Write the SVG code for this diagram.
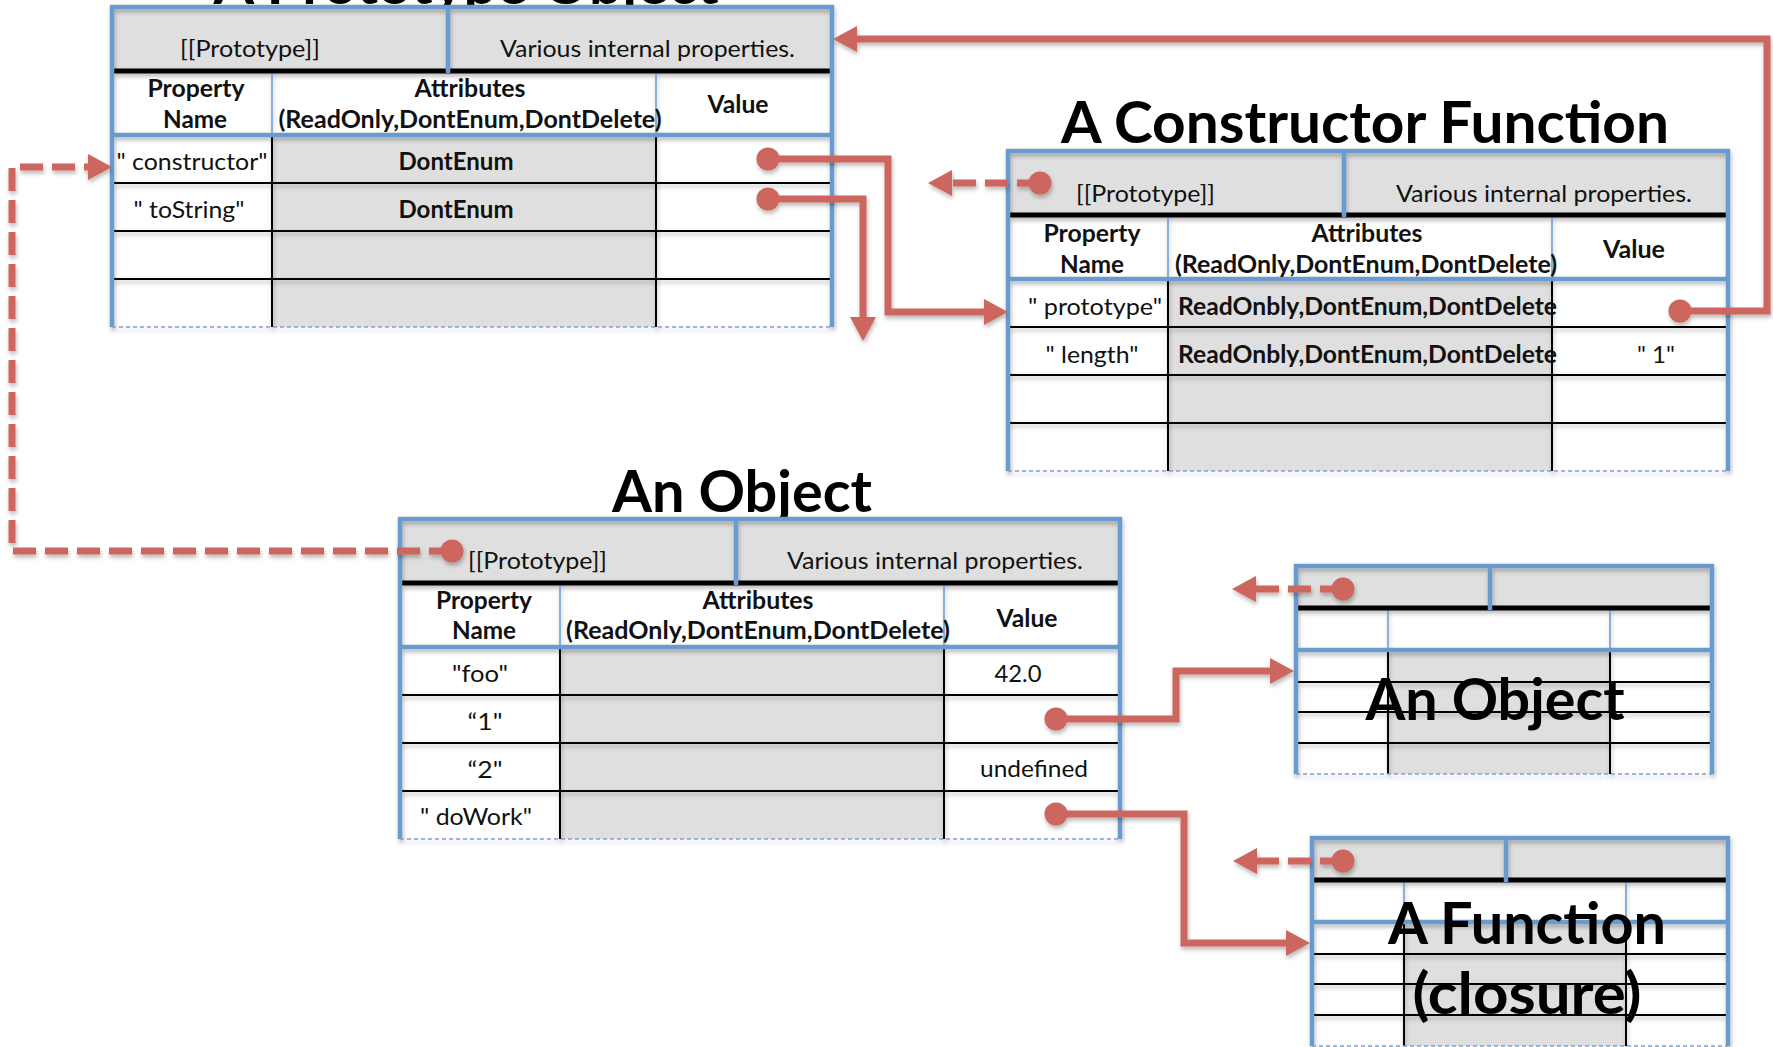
<svg xmlns="http://www.w3.org/2000/svg" width="1773" height="1047" viewBox="0 0 1773 1047">
  <style>
    .txt { font-family: Lato, "Liberation Sans", sans-serif; font-size: 24px; fill: #111; }
    .b { font-weight: bold; }
    .mid { text-anchor: middle; }
    .end { text-anchor: end; }
    .title { font-family: Lato, "Liberation Sans", sans-serif; font-size: 57px; font-weight: bold; fill: #000; text-anchor: middle; }
    .fill { fill: #DFDFDF; }
    .grid { stroke: #000; stroke-width: 2; fill: none; }
    .thin { stroke: #6A9ACE; stroke-width: 1.5; fill: none; }
    .heavy { stroke: #000; stroke-width: 5; fill: none; }
    .rim { stroke: #6A9ACE; stroke-width: 4.5; fill: none; }
    .foot { stroke: #7FA3CC; stroke-width: 1.5; stroke-dasharray: 4 3; fill: none; }
    .link { stroke: #CD665F; stroke-width: 7; fill: none; stroke-linejoin: miter; }
    .dash { stroke-dasharray: 23 9; }
  </style>
  <defs>
    <filter id="soft" filterUnits="userSpaceOnUse" x="-200" y="-200" width="2400" height="1500">
      <feDropShadow dx="1" dy="3" stdDeviation="2.2" flood-color="#000" flood-opacity="0.28"/>
    </filter>
    <marker id="arrow" markerUnits="userSpaceOnUse" viewBox="0 -13 24 26" markerWidth="24" markerHeight="26" refX="1" refY="0" orient="auto">
      <path d="M0,-13 L24,0 L0,13 Z" fill="#CD665F"/>
    </marker>
    <marker id="dot" markerUnits="userSpaceOnUse" viewBox="-12 -12 24 24" markerWidth="24" markerHeight="24" refX="0" refY="0" orient="auto">
      <circle cx="0" cy="0" r="11.5" fill="#CD665F"/>
    </marker>

    <!-- full-size property table: 720 x 320 -->
    <g id="tableFrame">
      <rect class="fill" x="0" y="0" width="720" height="64"/>
      <rect class="fill" x="160" y="128" width="384" height="192"/>
      <g filter="url(#soft)">
        <path class="grid" d="M2,176 H718 M2,224 H718 M2,272 H718 M160,128 V320 M544,128 V320"/>
        <path class="thin" d="M160,66 V126 M544,66 V126"/>
        <path class="heavy" d="M2,64 H718"/>
        <path class="rim" d="M336,0 V66 M0,128 H720"/>
        <path class="foot" d="M0,320 H720"/>
        <path class="rim" d="M0,320 V0 H720 V320"/>
      </g>
    </g>

    <!-- reduced property table: 416 x 208 -->
    <g id="miniFrame">
      <rect class="fill" x="0" y="0" width="416" height="42"/>
      <rect class="fill" x="92" y="84" width="222" height="124"/>
      <g filter="url(#soft)">
        <path class="grid" d="M2,116 H414 M2,146 H414 M2,177 H414 M92,84 V208 M314,84 V208"/>
        <path class="thin" d="M92,44 V82 M314,44 V82"/>
        <path class="heavy" d="M2,42 H414"/>
        <path class="rim" d="M194,0 V44 M0,84 H416"/>
        <path class="foot" d="M0,208 H416"/>
        <path class="rim" d="M0,208 V0 H416 V208"/>
      </g>
    </g>
  </defs>

  <rect width="1773" height="1047" fill="#fff"/>

  <!-- prototype object -->
  <g id="prototype-object">
    <text class="title" x="466" y="4" textLength="505" lengthAdjust="spacingAndGlyphs">A Prototype Object</text>
    <use href="#tableFrame" x="112" y="7"/>
    <text class="txt" x="180" y="57" textLength="140" lengthAdjust="spacingAndGlyphs">[[Prototype]]</text>
    <text class="txt end" x="795" y="57" textLength="295" lengthAdjust="spacingAndGlyphs">Various internal properties.</text>
    <text class="txt b mid" x="196" y="97" textLength="97" lengthAdjust="spacingAndGlyphs">Property</text>
    <text class="txt b mid" x="195" y="128" textLength="64" lengthAdjust="spacingAndGlyphs">Name</text>
    <text class="txt b mid" x="470" y="97" textLength="111" lengthAdjust="spacingAndGlyphs">Attributes</text>
    <text class="txt b mid" x="470" y="128" textLength="383" lengthAdjust="spacingAndGlyphs">(ReadOnly,DontEnum,DontDelete)</text>
    <text class="txt b mid" x="738" y="113" textLength="61" lengthAdjust="spacingAndGlyphs">Value</text>
    <text class="txt mid" x="192" y="170" textLength="151" lengthAdjust="spacingAndGlyphs">" constructor"</text>
    <text class="txt mid" x="189" y="218" textLength="111" lengthAdjust="spacingAndGlyphs">" toString"</text>
    <text class="txt b mid" x="456" y="170" textLength="115" lengthAdjust="spacingAndGlyphs">DontEnum</text>
    <text class="txt b mid" x="456" y="218" textLength="115" lengthAdjust="spacingAndGlyphs">DontEnum</text>
  </g>

  <!-- constructor function -->
  <g id="constructor-function">
    <text class="title" x="1365" y="143" textLength="608" lengthAdjust="spacingAndGlyphs">A Constructor Function</text>
    <use href="#tableFrame" x="1008" y="151"/>
    <text class="txt" x="1076" y="202" textLength="139" lengthAdjust="spacingAndGlyphs">[[Prototype]]</text>
    <text class="txt end" x="1692" y="202" textLength="296" lengthAdjust="spacingAndGlyphs">Various internal properties.</text>
    <text class="txt b mid" x="1092" y="242" textLength="97" lengthAdjust="spacingAndGlyphs">Property</text>
    <text class="txt b mid" x="1092" y="273" textLength="64" lengthAdjust="spacingAndGlyphs">Name</text>
    <text class="txt b mid" x="1367" y="242" textLength="111" lengthAdjust="spacingAndGlyphs">Attributes</text>
    <text class="txt b mid" x="1366" y="273" textLength="382" lengthAdjust="spacingAndGlyphs">(ReadOnly,DontEnum,DontDelete)</text>
    <text class="txt b mid" x="1634" y="258" textLength="62" lengthAdjust="spacingAndGlyphs">Value</text>
    <text class="txt mid" x="1095" y="315" textLength="134" lengthAdjust="spacingAndGlyphs">" prototype"</text>
    <text class="txt mid" x="1092" y="363" textLength="93" lengthAdjust="spacingAndGlyphs">" length"</text>
    <text class="txt b" x="1178" y="315" textLength="379" lengthAdjust="spacingAndGlyphs">ReadOnbly,DontEnum,DontDelete</text>
    <text class="txt b" x="1178" y="363" textLength="379" lengthAdjust="spacingAndGlyphs">ReadOnbly,DontEnum,DontDelete</text>
    <text class="txt mid" x="1656" y="363" textLength="38" lengthAdjust="spacingAndGlyphs">" 1"</text>
  </g>

  <!-- an object -->
  <g id="an-object">
    <text class="title" x="742" y="512" textLength="260" lengthAdjust="spacingAndGlyphs">An Object</text>
    <use href="#tableFrame" x="400" y="519"/>
    <text class="txt" x="468" y="569" textLength="139" lengthAdjust="spacingAndGlyphs">[[Prototype]]</text>
    <text class="txt end" x="1083" y="569" textLength="296" lengthAdjust="spacingAndGlyphs">Various internal properties.</text>
    <text class="txt b mid" x="484" y="609" textLength="96" lengthAdjust="spacingAndGlyphs">Property</text>
    <text class="txt b mid" x="484" y="639" textLength="64" lengthAdjust="spacingAndGlyphs">Name</text>
    <text class="txt b mid" x="758" y="609" textLength="111" lengthAdjust="spacingAndGlyphs">Attributes</text>
    <text class="txt b mid" x="758" y="639" textLength="384" lengthAdjust="spacingAndGlyphs">(ReadOnly,DontEnum,DontDelete)</text>
    <text class="txt b mid" x="1027" y="627" textLength="61" lengthAdjust="spacingAndGlyphs">Value</text>
    <text class="txt mid" x="480" y="682" textLength="56" lengthAdjust="spacingAndGlyphs">"foo"</text>
    <text class="txt mid" x="485" y="730" textLength="35" lengthAdjust="spacingAndGlyphs">“1"</text>
    <text class="txt mid" x="485" y="778" textLength="35" lengthAdjust="spacingAndGlyphs">“2"</text>
    <text class="txt mid" x="476" y="825" textLength="112" lengthAdjust="spacingAndGlyphs">" doWork"</text>
    <text class="txt mid" x="1018" y="682" textLength="47" lengthAdjust="spacingAndGlyphs">42.0</text>
    <text class="txt mid" x="1034" y="777" textLength="108" lengthAdjust="spacingAndGlyphs">undefined</text>
  </g>

  <!-- nested object (reduced) -->
  <g id="nested-object">
    <use href="#miniFrame" x="1296" y="566"/>
    <text class="title" x="1495" y="720" textLength="259" lengthAdjust="spacingAndGlyphs">An Object</text>
  </g>

  <!-- closure function (reduced) -->
  <g id="closure-function">
    <use href="#miniFrame" x="1312" y="838"/>
    <text class="title" x="1527" y="944" textLength="278" lengthAdjust="spacingAndGlyphs">A Function</text>
    <text class="title" x="1527" y="1014" textLength="229" lengthAdjust="spacingAndGlyphs">(closure)</text>
  </g>

  <!-- connectors -->
  <g id="connectors" filter="url(#soft)">
    <path class="link dash" d="M452,551 H12 V167 H89" marker-start="url(#dot)" marker-end="url(#arrow)"/>
    <path class="link dash" d="M1040,183 H951" marker-start="url(#dot)" marker-end="url(#arrow)"/>
    <path class="link dash" d="M1343,589 H1255" marker-start="url(#dot)" marker-end="url(#arrow)"/>
    <path class="link dash" d="M1343,861 H1256" marker-start="url(#dot)" marker-end="url(#arrow)"/>
    <path class="link" d="M768,159 H888 V312 H985" marker-start="url(#dot)" marker-end="url(#arrow)"/>
    <path class="link" d="M768,199 H863 V318" marker-start="url(#dot)" marker-end="url(#arrow)"/>
    <path class="link" d="M1680,311 H1767 V39 H856" marker-start="url(#dot)" marker-end="url(#arrow)"/>
    <path class="link" d="M1056,719 H1176 V671 H1271" marker-start="url(#dot)" marker-end="url(#arrow)"/>
    <path class="link" d="M1056,814 H1184 V943 H1287" marker-start="url(#dot)" marker-end="url(#arrow)"/>
  </g>
</svg>
